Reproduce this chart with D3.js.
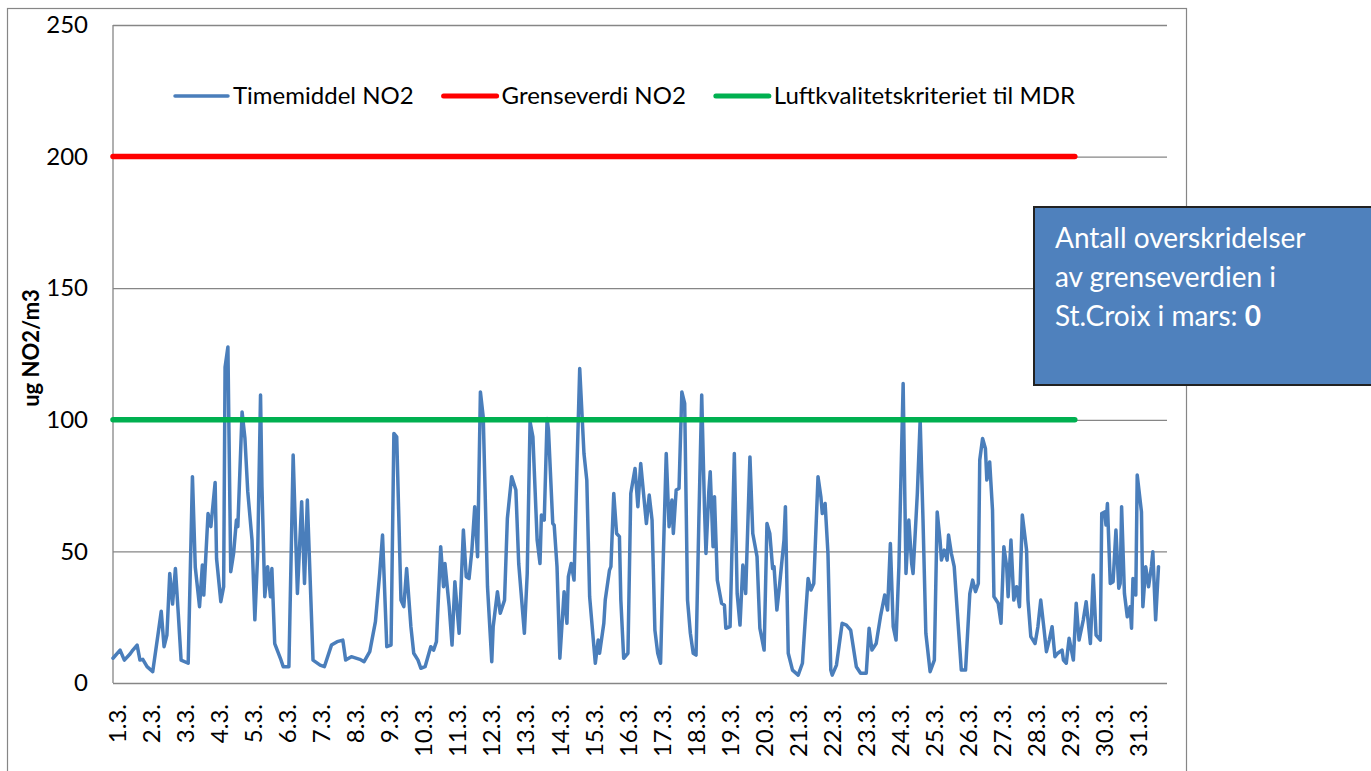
<!DOCTYPE html>
<html>
<head>
<meta charset="utf-8">
<script src="https://cdn.jsdelivr.net/npm/d3@7"></script>
<style>
  body { margin: 0; background: #fff; }
  svg { display: block; font-family: Lato, "Open Sans", sans-serif; }
</style>
</head>
<body>
<svg id="chart" width="1371" height="771"></svg>
<script>
'use strict';

// [hours since 1.3. 00:00, ug NO2/m3]
var no2Hourly = [
  [0, 9.4], [5, 12.5], [8, 8.7], [12, 11], [14, 12.5], [17, 14.4], [19, 8.7], [21, 9], [24, 6.2], [28, 4.3],
  [32, 19.5], [34, 27.3], [36, 13.8], [38, 18.2], [40, 41.6], [42, 30], [44, 43.5], [46, 26.5], [48, 8.7], [53, 7.5],
  [56, 78.4], [58, 44], [61, 29], [63, 44.8], [64, 33.4], [67, 64.4], [69, 59.4], [72, 76.2], [73, 47.3], [76, 30.9],
  [78, 36.6], [79, 120], [81, 127.7], [83, 42.3], [85, 49.2], [87, 61.9], [88, 59.4], [91, 103], [93, 93], [95, 72.7],
  [98, 54.3], [100, 24], [102, 49.2], [104, 109.4], [105, 74.6], [107, 32.8], [109, 44.2], [111, 32.8], [112, 43.5], [114, 15],
  [118, 9.4], [120, 6.2], [124, 6.2], [127, 86.6], [130, 34], [133, 68.9], [135, 37.8], [137, 69.5], [141, 8.7], [146, 6.8],
  [149, 6.2], [154, 14.4], [158, 15.7],
  [162, 16.3], [164, 8.7], [168, 10], [174, 9], [177, 8.1], [181, 11.9], [185, 23.3], [188, 41.6], [190, 56.2], [193, 13.8],
  [196, 14.4], [198, 94.8], [200, 93.5], [203, 31.5], [205, 29], [207, 43.5], [210, 21.4], [212, 11.3], [215, 8.7], [217, 5.6],
  [220, 6.2], [224, 13.8], [226, 12.5], [228, 15.7], [231, 51.8], [233, 36.6], [234, 45.4], [237, 29], [239, 14.4], [241, 38.5],
  [244, 18.9], [247, 58.1], [249, 40.4], [251, 39.7], [253, 50.5], [255, 67], [257, 48], [259, 110.6], [261, 101], [264, 36.6],
  [267, 8.1], [268, 21.4], [271, 34.7], [273, 26.5], [276, 31.5], [278, 62.5], [281, 78.4], [284, 73.3], [286, 45.4], [290, 18.9],
  [292, 41.6], [294, 99.2], [296, 93.5], [299, 54.3], [301, 45.4], [302, 63.8], [304, 61.9], [306, 100.5], [307, 96], [310, 60.6],
  [311, 60], [313, 44.2], [315, 9.4],
  [318, 34.7], [320, 22.7], [321, 40.4], [323, 45.4], [325, 39.1], [327, 80.9], [329, 119.5], [332, 87.2], [334, 77.1], [336, 32.8],
  [339, 13.8], [340, 7.5], [342, 16.3], [343, 11.3], [346, 22.7], [347, 31.5], [350, 42.9], [351, 44.2], [353, 72], [355, 56.8],
  [357, 55.6], [358, 31.5], [360, 9.4], [363, 11.3], [365, 72], [368, 81.5], [370, 67], [372, 83.4], [374, 72], [376, 60.6],
  [378, 71.4], [380, 61.9], [382, 20.1], [384, 11.3], [386, 7.5], [388, 49.2], [390, 87.2], [392, 59.4], [394, 69.5], [395, 56.8],
  [397, 73.3], [399, 73.9], [401, 110.6], [403, 106.2], [405, 31.5], [407, 18.9], [409, 11.3], [411, 10.6], [413, 61.9], [415, 109.4],
  [417, 65.7], [418, 49.2], [420, 72.7], [421, 80.3], [423, 51.8], [424, 70.8], [426, 39.1], [429, 30.3], [431, 29.6], [432, 20.8],
  [435, 21.4], [438, 87.2], [440, 34], [442, 22], [444, 44.8], [446, 34], [449, 85.9], [451, 56.8], [454, 48], [456, 20.8],
  [459, 12.5], [461, 60.6], [463, 56.8], [465, 43.5], [466, 44.2], [468, 27.7],
  [470, 37.8], [473, 54.3], [474, 67], [476, 11.3], [479, 4.9], [483, 3], [486, 7.5], [488, 24], [490, 39.7], [492, 35.3],
  [494, 37.8], [497, 78.4], [499, 70.8], [500, 64.4], [502, 68.2], [504, 49.2], [506, 4.9], [507, 3], [510, 6.8], [514, 22.7],
  [517, 22], [520, 20.1], [524, 6.2], [527, 3.7], [531, 3.7], [533, 20.8], [535, 12.5], [538, 15], [541, 25.2], [544, 33.4],
  [546, 27.7], [548, 53], [550, 21.4], [552, 16.3], [554, 44.2], [557, 113.8], [559, 41.6], [561, 61.9], [563, 45.4], [564, 41.6],
  [567, 72], [569, 99.9], [571, 61.9], [573, 18.9], [576, 4.3], [579, 8.7], [581, 65], [583, 54.3], [584, 46.7], [586, 50.5],
  [588, 46.7], [589, 56.2], [591, 49.2], [593, 44.2], [598, 4.9], [601, 4.9], [604, 34], [606, 39.1], [608, 34.7], [610, 37.8],
  [611, 84.7], [613, 92.9], [615, 89.1], [616, 77.1], [618, 84], [620, 65.7], [621, 32.8],
  [624, 30.3], [626, 22.7], [628, 51.8], [630, 44.2], [631, 32.8], [633, 54.3], [635, 31.5], [637, 36.6], [639, 29], [641, 63.8],
  [644, 50.5], [645, 31.5], [647, 17.6], [650, 15], [652, 21.4], [654, 31.5], [656, 22], [658, 11.9], [660, 16.3], [662, 21.4],
  [664, 10], [666, 11.3], [669, 12.5], [670, 8.7], [672, 7.5], [674, 17], [677, 8.7], [679, 30.3], [681, 16.3], [684, 24],
  [686, 30.9], [689, 15], [691, 41], [693, 18.2], [696, 16.3], [697, 64.4], [699, 65], [700, 60], [701, 68.2], [703, 37.8],
  [705, 38.5], [707, 58.1], [709, 36], [710, 37.8], [711, 67], [713, 34], [715, 25.2], [717, 29], [718, 20.8], [719, 39.7],
  [721, 33.4], [722, 79], [725, 65], [726, 29], [728, 44.2], [730, 36.6], [732, 44.2], [733, 49.9], [735, 24], [737, 44.2]
];

var dayLabels = ['1.3.', '2.3.', '3.3.', '4.3.', '5.3.', '6.3.', '7.3.', '8.3.', '9.3.', '10.3.',
  '11.3.', '12.3.', '13.3.', '14.3.', '15.3.', '16.3.', '17.3.', '18.3.', '19.3.', '20.3.',
  '21.3.', '22.3.', '23.3.', '24.3.', '25.3.', '26.3.', '27.3.', '28.3.', '29.3.', '30.3.', '31.3.'];
var yTicks = [0, 50, 100, 150, 200, 250];

var seriesNames = ['Timemiddel NO2', 'Grenseverdi NO2', 'Luftkvalitetskriteriet til MDR'];
var limitValues = [200, 100];      // grenseverdi, MDR-kriterium
var limitHours = [0, 678];         // the limit series stop before month end
var noteLines = ['Antall overskridelser', 'av grenseverdien i', 'St.Croix i mars: '];
var exceedances = 0;

var colors = ['#4A7EBB', '#FF0000', '#00B050'];
var gridColor = '#868686';

var plot = {left: 113, right: 1167, top: 25, bottom: 683};
var hoursInMonth = 744;

var svg = d3.select('#chart');

var x = d3.scaleLinear().domain([0, hoursInMonth - 1]).range([plot.left, plot.right]);
var y = d3.scaleLinear().domain([0, 250]).range([plot.bottom, plot.top]);

// outer chart border
svg.append('rect')
  .attr('x', 7.5).attr('y', 8.5)
  .attr('width', 1179).attr('height', 800)
  .attr('fill', 'none')
  .attr('stroke', gridColor)
  .attr('stroke-width', 1.2);

// y axis with gridlines
var yAxis = svg.append('g')
  .attr('transform', 'translate(' + plot.left + ',0)')
  .call(d3.axisLeft(y)
    .tickValues(yTicks)
    .tickSize(-(plot.right - plot.left))
    .tickPadding(25));
yAxis.select('.domain').remove();
yAxis.selectAll('.tick line')
  .attr('stroke', gridColor)
  .attr('stroke-width', 1.3);
yAxis.selectAll('.tick text')
  .attr('font-family', 'Lato, sans-serif')
  .attr('font-size', 24)
  .attr('fill', '#000');

// left edge of plot area
svg.append('line')
  .attr('x1', plot.left).attr('x2', plot.left)
  .attr('y1', plot.top).attr('y2', plot.bottom)
  .attr('stroke', gridColor)
  .attr('stroke-width', 1.3);

// x labels, one per day
svg.append('g')
  .selectAll('text')
  .data(dayLabels)
  .enter()
  .append('text')
  .attr('transform', function (d, i) {
    return 'translate(' + (x(i * 24) + 4.5) + ',' + 704 + ') rotate(-90)';
  })
  .attr('text-anchor', 'end')
  .attr('dy', '0.35em')
  .attr('font-size', 24)
  .text(function (d) { return d; });

// y axis title
svg.append('text')
  .attr('transform', 'translate(31,' + 348 + ') rotate(-90)')
  .attr('text-anchor', 'middle')
  .attr('dy', '0.35em')
  .attr('font-size', 22)
  .attr('font-weight', 'bold')
  .text('ug NO2/m3');

// hourly series
var line = d3.line()
  .x(function (d) { return x(d[0]); })
  .y(function (d) { return y(d[1]); });

svg.append('path')
  .datum(no2Hourly)
  .attr('d', line)
  .attr('fill', 'none')
  .attr('stroke', colors[0])
  .attr('stroke-width', 3.5)
  .attr('stroke-linejoin', 'round')
  .attr('stroke-linecap', 'round');

// limit lines, drawn over the hourly series
limitValues.forEach(function (v, i) {
  var pts = limitHours.map(function (h) { return [h, v]; });
  svg.append('path')
    .datum(pts)
    .attr('d', line)
    .attr('fill', 'none')
    .attr('stroke', colors[i + 1])
    .attr('stroke-width', 5.5)
    .attr('stroke-linecap', 'round');
});

// legend
var legend = svg.append('g').attr('transform', 'translate(175,96)');
var lx = 0;
seriesNames.forEach(function (name, i) {
  legend.append('line')
    .attr('x1', lx).attr('x2', lx + 53)
    .attr('y1', 0).attr('y2', 0)
    .attr('stroke', colors[i])
    .attr('stroke-width', i === 0 ? 3.5 : 5)
    .attr('stroke-linecap', 'round');
  var t = legend.append('text')
    .attr('x', lx + 58)
    .attr('dy', '0.35em')
    .attr('font-size', 24)
    .text(name);
  lx += 58 + t.node().getComputedTextLength() + 30;
});

// note box
svg.append('rect')
  .attr('x', 1034).attr('y', 207)
  .attr('width', 400).attr('height', 178)
  .attr('fill', '#4F81BD')
  .attr('stroke', '#222')
  .attr('stroke-width', 2);

var note = svg.append('text')
  .attr('x', 1055)
  .attr('y', 248)
  .attr('font-size', 28)
  .attr('fill', '#fff');
noteLines.forEach(function (s, i) {
  note.append('tspan')
    .attr('x', 1055)
    .attr('dy', i === 0 ? 0 : 39)
    .text(s);
  if (i === noteLines.length - 1) {
    note.append('tspan')
      .attr('font-weight', 'bold')
      .text(exceedances);
  }
});
</script>
</body>
</html>
